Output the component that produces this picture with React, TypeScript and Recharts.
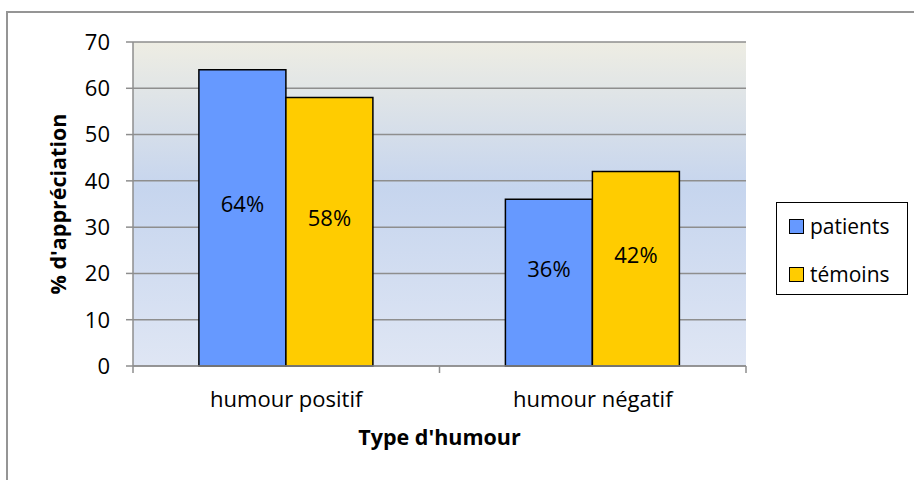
import React from 'react';
import { BarChart, Bar, XAxis, YAxis, CartesianGrid, Legend, LabelList, Label } from 'recharts';

const categories = ['humour positif', 'humour négatif'];
const patients = [64, 36];
const temoins = [58, 42];
const yTicks = [0, 10, 20, 30, 40, 50, 60, 70];
const seriesNames = ['patients', 'témoins'];
const seriesColors = ['#6699FF', '#FFCC00'];

const data = categories.map((c, i) => ({ name: c, patients: patients[i], temoins: temoins[i] }));

const FONT = '"Open Sans", Lato, sans-serif';
const GRID = '#8E8E8E';

const CenterLabel = (props: any) => {
  const { x, y, width, height, value } = props;
  return (
    <text x={x + width / 2} y={y + height / 2 - 15} textAnchor="middle" dominantBaseline="central" fontSize={22} fontFamily={FONT} fill="#000">
      {value}%
    </text>
  );
};

const CategoryTick = (props: any) => {
  const { x, y, payload, index, visibleTicksCount } = props;
  const off = payload && payload.offset ? payload.offset : 0;
  const last = visibleTicksCount ? index === visibleTicksCount - 1 : index === categories.length - 1;
  return (
    <g>
      {off ? <line x1={x - off} x2={x - off} y1={y} y2={y + 7} stroke={GRID} strokeWidth={1.5} /> : null}
      {off && last ? <line x1={x + off} x2={x + off} y1={y} y2={y + 7} stroke={GRID} strokeWidth={1.5} /> : null}
      <text x={x} y={y + 41} textAnchor="middle" fontSize={22} fontFamily={FONT} fill="#000">{payload.value}</text>
    </g>
  );
};

const LegendBox = () => (
  <div style={{ border: '1.5px solid #000', width: 132, height: 93, boxSizing: 'border-box', background: '#fff', fontFamily: FONT, fontSize: 21, paddingLeft: 12, paddingTop: 10 }}>
    {seriesNames.map((n, i) => (
      <div key={n} style={{ display: 'flex', alignItems: 'center', height: 26, marginBottom: i === 0 ? 22 : 0, whiteSpace: 'nowrap' }}>
        <span style={{ display: 'inline-block', width: 13, height: 13, background: seriesColors[i], border: '1.5px solid #000', marginRight: 6, flex: 'none' }} />
        <span>{n}</span>
      </div>
    ))}
  </div>
);

export default function App() {
  return (
    <div style={{ position: 'absolute', left: 0, top: 0, width: 914, height: 480, background: '#fff' }}>
      <div style={{ position: 'absolute', left: 6, top: 11, width: 930, height: 490, borderLeft: '2px solid #959595', borderTop: '2px solid #959595' }} />
      <div style={{ position: 'absolute', left: 0, top: 0 }}>
        <BarChart width={914} height={480} data={data} margin={{ top: 42, right: 168, bottom: 0, left: 0 }} barCategoryGap="21.5%" barGap={0}>
          <defs>
            <linearGradient id="bg" x1="0" y1="0" x2="0" y2="1">
              <stop offset="0%" stopColor="#EEEDE3" />
              <stop offset="45%" stopColor="#C6D5EE" />
              <stop offset="100%" stopColor="#DFE6F4" />
            </linearGradient>
          </defs>
          <CartesianGrid vertical={false} fill="url(#bg)" stroke={GRID} strokeWidth={1.5} />
          <XAxis dataKey="name" axisLine={{ stroke: GRID, strokeWidth: 1.5 }} tickLine={false} tickSize={0} tickMargin={0} tick={<CategoryTick />} interval={0} height={114}>
            <Label value="Type d'humour" position="insideTop" offset={64} style={{ fontSize: 21.5, fontWeight: 700, fontFamily: FONT, fill: '#000' }} />
          </XAxis>
          <YAxis domain={[0, 70]} ticks={yTicks} width={133} axisLine={{ stroke: GRID, strokeWidth: 1.5 }} tickLine={{ stroke: GRID, strokeWidth: 1.5 }} tickSize={7} tickMargin={16} tick={{ fontSize: 22, fontFamily: FONT, fill: '#000' }}>
            <Label value="% d'appréciation" angle={-90} position="insideLeft" offset={58} style={{ fontSize: 21.5, fontWeight: 700, fontFamily: FONT, fill: '#000', textAnchor: 'middle' }} />
          </YAxis>
          <Legend layout="vertical" align="center" verticalAlign="middle" wrapperStyle={{ left: 776, top: 202, width: 132, height: 93 }} content={() => <LegendBox />} />
          <Bar dataKey="patients" name="patients" fill={seriesColors[0]} stroke="#000" strokeWidth={1.5} isAnimationActive={false}>
            <LabelList dataKey="patients" content={<CenterLabel />} />
          </Bar>
          <Bar dataKey="temoins" name="témoins" fill={seriesColors[1]} stroke="#000" strokeWidth={1.5} isAnimationActive={false}>
            <LabelList dataKey="temoins" content={<CenterLabel />} />
          </Bar>
        </BarChart>
      </div>
    </div>
  );
}
